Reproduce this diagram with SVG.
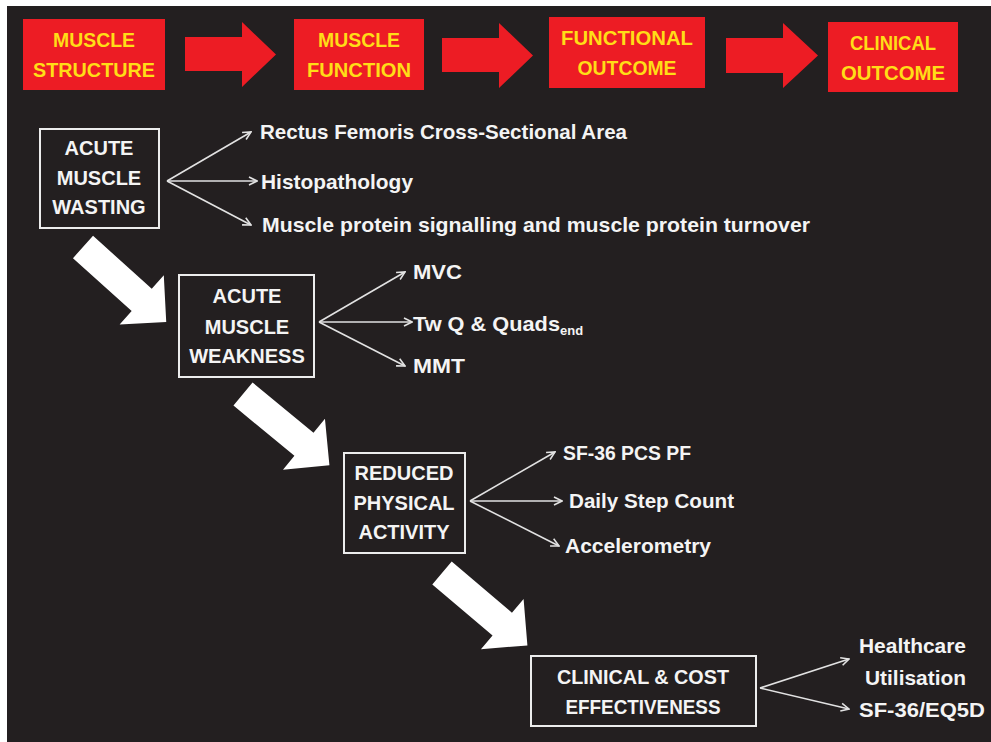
<svg xmlns="http://www.w3.org/2000/svg" width="991" height="742" viewBox="0 0 991 742">
  <style>
    .stage { fill: #ed1c24; }
    .stageText { font-family: "Liberation Sans", Arial, sans-serif; font-weight: bold; font-size: 20px; fill: #ffdd17; text-anchor: middle; }
    .box { fill: #231f20; stroke: #ececec; stroke-width: 2; }
    .boxText { font-family: "Liberation Sans", Arial, sans-serif; font-weight: bold; font-size: 20px; fill: #f4f4f4; text-anchor: middle; }
    .label { font-family: "Liberation Sans", Arial, sans-serif; font-weight: bold; font-size: 21px; fill: #f4f4f4; }
    .thin { stroke: #e2e2e2; stroke-width: 1.6; fill: none; marker-end: url(#tip); }
    .block { fill: #ffffff; }
  </style>
  <defs>
    <marker id="tip" viewBox="0 0 10 10" refX="9" refY="5" markerWidth="10" markerHeight="10" markerUnits="userSpaceOnUse" orient="auto">
      <path d="M1,1 L9,5 L1,9" fill="none" stroke="#e2e2e2" stroke-width="1.6"/>
    </marker>
    <path id="bigArrow" d="M0,-15 H79 V-33 L112,0 L79,33 V15 H0 Z"/>
  </defs>

  <!-- page -->
  <rect x="0" y="0" width="991" height="742" fill="#ffffff"/>
  <rect x="7" y="6" width="984" height="736" fill="#231f20"/>

  <!-- top row of stages -->
  <g id="stage-structure">
    <rect class="stage" x="23" y="19" width="142" height="71"/>
    <text class="stageText" x="94" y="47" textLength="82" lengthAdjust="spacingAndGlyphs">MUSCLE</text>
    <text class="stageText" x="94" y="77" textLength="122" lengthAdjust="spacingAndGlyphs">STRUCTURE</text>
  </g>
  <g id="stage-function">
    <rect class="stage" x="294" y="19" width="130" height="71"/>
    <text class="stageText" x="359" y="47" textLength="82" lengthAdjust="spacingAndGlyphs">MUSCLE</text>
    <text class="stageText" x="359" y="77" textLength="104" lengthAdjust="spacingAndGlyphs">FUNCTION</text>
  </g>
  <g id="stage-functional-outcome">
    <rect class="stage" x="549" y="17" width="156" height="71"/>
    <text class="stageText" x="627" y="45" textLength="132" lengthAdjust="spacingAndGlyphs">FUNCTIONAL</text>
    <text class="stageText" x="627" y="75" textLength="99" lengthAdjust="spacingAndGlyphs">OUTCOME</text>
  </g>
  <g id="stage-clinical-outcome">
    <rect class="stage" x="828" y="22" width="130" height="70"/>
    <text class="stageText" x="893" y="50" textLength="86" lengthAdjust="spacingAndGlyphs">CLINICAL</text>
    <text class="stageText" x="893" y="80" textLength="104" lengthAdjust="spacingAndGlyphs">OUTCOME</text>
  </g>

  <!-- measurement nodes -->
  <g id="acute-wasting">
    <rect class="box" x="40" y="129" width="119" height="99"/>
    <text class="boxText" x="99" y="155">ACUTE</text>
    <text class="boxText" x="99" y="185">MUSCLE</text>
    <text class="boxText" x="99" y="214">WASTING</text>
  </g>
  <g id="acute-weakness">
    <rect class="box" x="179" y="275" width="135" height="102"/>
    <text class="boxText" x="247" y="303">ACUTE</text>
    <text class="boxText" x="247" y="334">MUSCLE</text>
    <text class="boxText" x="247" y="363">WEAKNESS</text>
  </g>
  <g id="reduced-activity">
    <rect class="box" x="344" y="453" width="121" height="100"/>
    <text class="boxText" x="404" y="480">REDUCED</text>
    <text class="boxText" x="404" y="510">PHYSICAL</text>
    <text class="boxText" x="404" y="539">ACTIVITY</text>
  </g>
  <g id="clinical-cost">
    <rect class="box" x="531" y="656" width="225" height="70"/>
    <text class="boxText" x="643" y="684" textLength="172" lengthAdjust="spacingAndGlyphs">CLINICAL &amp; COST</text>
    <text class="boxText" x="643" y="714" textLength="155" lengthAdjust="spacingAndGlyphs">EFFECTIVENESS</text>
  </g>

  <!-- outcome measures -->
  <g id="measures-wasting">
    <text class="label" x="260" y="139" textLength="367" lengthAdjust="spacingAndGlyphs">Rectus Femoris Cross-Sectional Area</text>
    <text class="label" x="261" y="189" textLength="152" lengthAdjust="spacingAndGlyphs">Histopathology</text>
    <text class="label" x="262" y="232" textLength="548" lengthAdjust="spacingAndGlyphs">Muscle protein signalling and muscle protein turnover</text>
  </g>
  <g id="measures-weakness">
    <text class="label" x="413" y="279" textLength="49" lengthAdjust="spacingAndGlyphs">MVC</text>
    <text class="label" x="413" y="331"><tspan textLength="147" lengthAdjust="spacingAndGlyphs">Tw Q &amp; Quads</tspan><tspan font-size="13" dy="4">end</tspan></text>
    <text class="label" x="413" y="373" textLength="52" lengthAdjust="spacingAndGlyphs">MMT</text>
  </g>
  <g id="measures-activity">
    <text class="label" x="563" y="460" textLength="128" lengthAdjust="spacingAndGlyphs">SF-36 PCS PF</text>
    <text class="label" x="569" y="508" textLength="165" lengthAdjust="spacingAndGlyphs">Daily Step Count</text>
    <text class="label" x="565" y="553" textLength="146" lengthAdjust="spacingAndGlyphs">Accelerometry</text>
  </g>
  <g id="measures-clinical">
    <text class="label" x="859" y="653" textLength="107" lengthAdjust="spacingAndGlyphs">Healthcare</text>
    <text class="label" x="865" y="685" textLength="101" lengthAdjust="spacingAndGlyphs">Utilisation</text>
    <text class="label" x="859" y="717" textLength="126" lengthAdjust="spacingAndGlyphs">SF-36/EQ5D</text>
  </g>

  <!-- connectors -->
  <g id="connectors">
    <path class="stage" d="M185,37 H242 V22 L276,54.5 L242,87 V71 H185 Z"/>
    <path class="stage" d="M442,38 H499 V23 L533,55.5 L499,88 V72 H442 Z"/>
    <path class="stage" d="M726,38 H783 V23 L818,55.5 L783,88 V73 H726 Z"/>

    <use href="#bigArrow" class="block" transform="translate(83,247) rotate(42)"/>
    <use href="#bigArrow" class="block" transform="translate(243,394) rotate(39.5)"/>
    <use href="#bigArrow" class="block" transform="translate(442,573) rotate(40.3)"/>

    <line class="thin" x1="167" y1="181" x2="251" y2="132"/>
    <line class="thin" x1="167" y1="181" x2="257" y2="181"/>
    <line class="thin" x1="167" y1="181" x2="251" y2="225"/>

    <line class="thin" x1="319" y1="322" x2="405" y2="272"/>
    <line class="thin" x1="319" y1="322" x2="412" y2="322"/>
    <line class="thin" x1="319" y1="322" x2="405" y2="366"/>

    <line class="thin" x1="470" y1="501" x2="555" y2="452"/>
    <line class="thin" x1="470" y1="501" x2="562" y2="501"/>
    <line class="thin" x1="470" y1="501" x2="559" y2="546"/>

    <line class="thin" x1="760" y1="688" x2="849" y2="659"/>
    <line class="thin" x1="760" y1="688" x2="849" y2="709"/>
  </g>
</svg>
